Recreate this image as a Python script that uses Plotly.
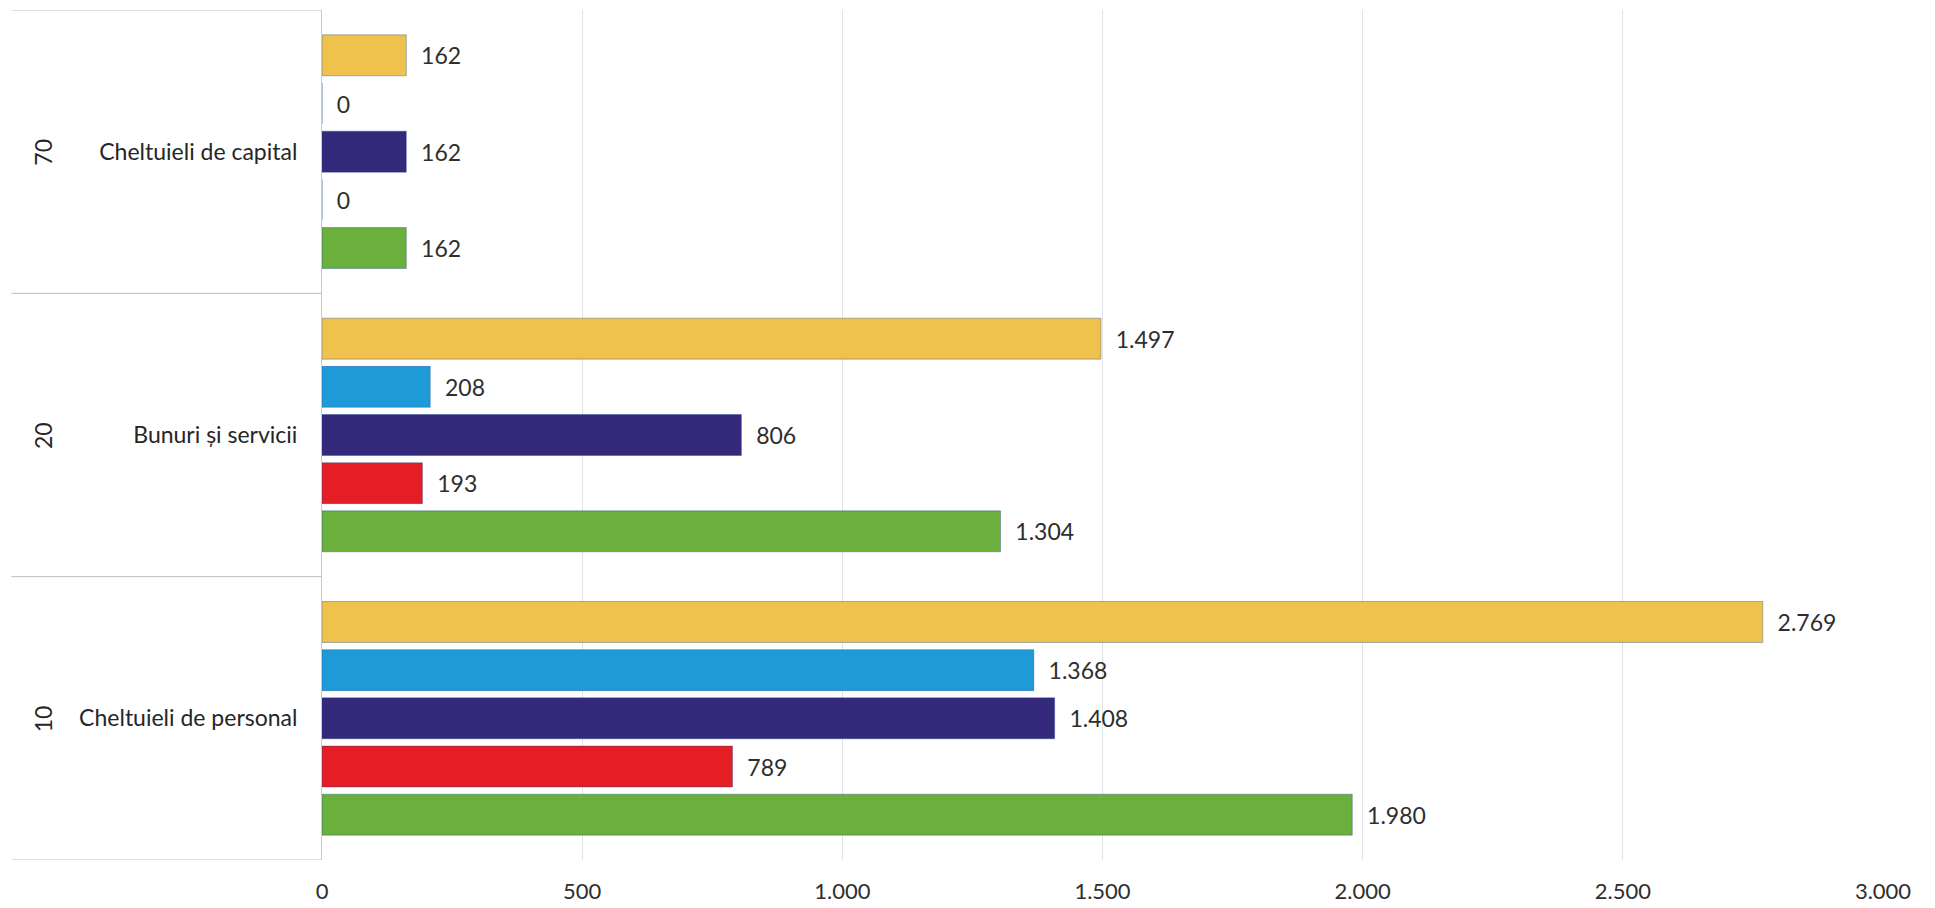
import plotly.graph_objects as go

categories = ["Cheltuieli de personal", "Bunuri și servicii", "Cheltuieli de capital"]
codes = ["10", "20", "70"]

# series from bottom to top within each group
series_names = ["Verde", "Roșu", "Violet", "Albastru", "Galben"]
green_vals = [1980, 1304, 162]
red_vals = [789, 193, 0]
purple_vals = [1408, 806, 162]
blue_vals = [1368, 208, 0]
yellow_vals = [2769, 1497, 162]

colors = ["#6BAF3C", "#E51D25", "#35297C", "#1E9BD7", "#EFC24E"]
all_vals = [green_vals, red_vals, purple_vals, blue_vals, yellow_vals]

x_ticks = [0, 500, 1000, 1500, 2000, 2500, 3000]

fig = go.Figure()
for name, vals, col in zip(series_names, all_vals, colors):
    fig.add_trace(go.Bar(
        y=categories, x=vals, orientation="h", name=name,
        marker=dict(color=col, line=dict(color="rgba(20,60,140,0.35)", width=1)),
        text=vals, texttemplate="\u00a0\u00a0%{x:,}", textposition="outside",
        textfont=dict(family="Lato", size=23, color="#2E2E2E"),
        cliponaxis=False,
    ))

fig.update_layout(
    width=1935, height=908,
    margin=dict(l=314, r=60, t=2, b=56),
    barmode="group", bargap=0.15, bargroupgap=0.15,
    separators=",.",
    showlegend=False,
    plot_bgcolor="white", paper_bgcolor="white",
    font=dict(family="Lato", size=22, color="#2E2E2E"),
)
fig.update_xaxes(
    range=[0, 3000], tickvals=x_ticks, tickformat=",",
    showgrid=True, gridcolor="#DDE3E8", gridwidth=1,
    zeroline=False, ticks="", ticklabelstandoff=16,
    tickfont=dict(family="Lato", size=22, color="#2E2E2E"),
)
fig.update_yaxes(
    range=[-0.5, 2.5], showgrid=False, zeroline=False,
    showline=True, linecolor="#C8CDD2", linewidth=1,
    ticks="", ticklabelstandoff=19,
    tickfont=dict(family="Lato", size=23, color="#262626"),
)

# group divider lines in the label area
for b in [-0.5, 0.5, 1.5, 2.5]:
    fig.add_shape(type="line", xref="paper", yref="y",
                  x0=-0.199, x1=0, y0=b, y1=b,
                  line=dict(color="#B8BEC4", width=1))

# outer code labels, rotated
for i, c in enumerate(codes):
    fig.add_annotation(xref="paper", yref="y", x=-0.189, y=i, text=c,
                       showarrow=False, textangle=-90,
                       font=dict(family="Lato", size=23, color="#262626"))

fig.write_html("out.html")
